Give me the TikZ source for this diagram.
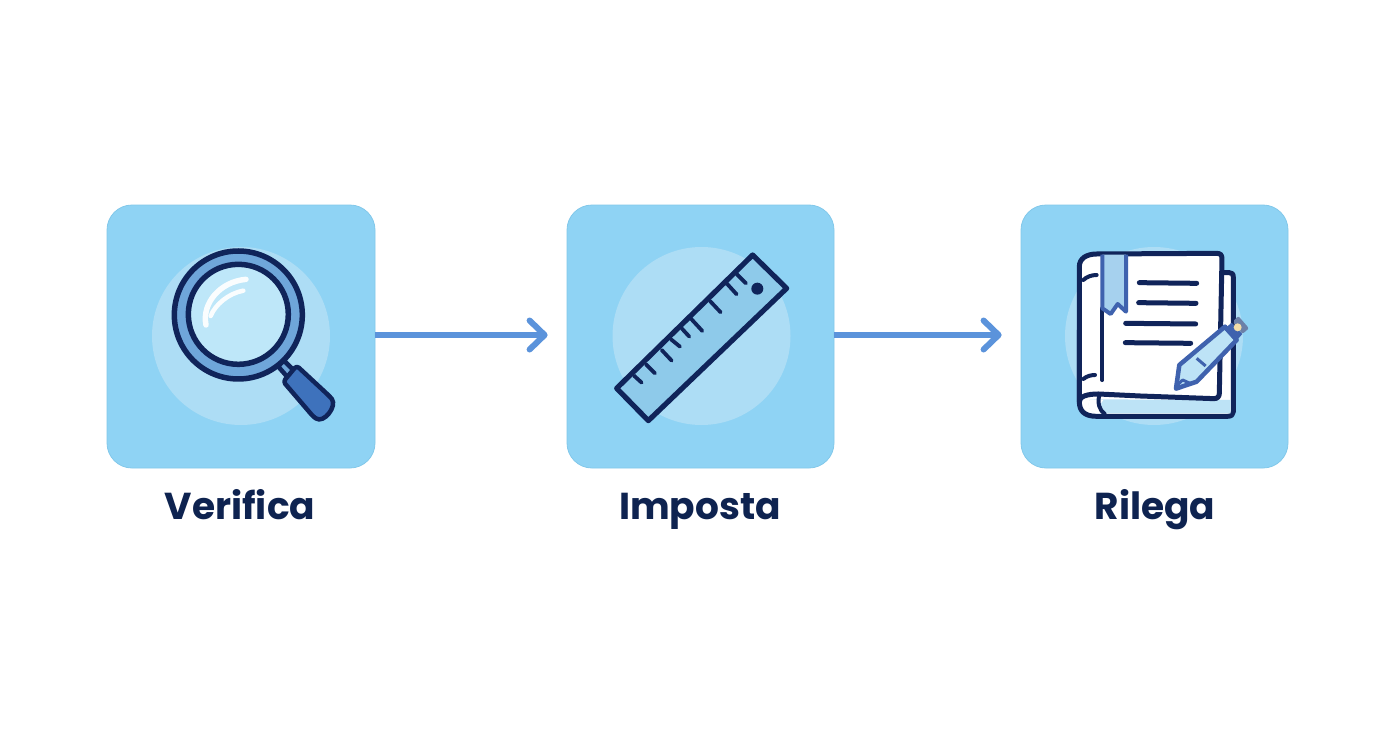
\documentclass[tikz,border=0pt]{standalone}
\usepackage{fontspec}
\setmainfont{Poppins}[BoldFont={Poppins Bold}]
\usetikzlibrary{arrows.meta}
\definecolor{boxfill}{HTML}{8FD3F4}
\definecolor{boxedge}{HTML}{82C8EA}
\definecolor{halo}{HTML}{ADDDF5}
\definecolor{navy}{HTML}{10245A}
\definecolor{titleink}{HTML}{0E2350}
\definecolor{arrowblue}{HTML}{5B93DB}
\definecolor{ringblue}{HTML}{6FA6DA}
\definecolor{lens}{HTML}{BEE7F9}
\definecolor{handleblue}{HTML}{3E72BC}
\definecolor{rulerfill}{HTML}{8ECAEA}
\definecolor{bandfill}{HTML}{BDE3F6}
\definecolor{penblue}{HTML}{3F62AE}
\definecolor{pengrey}{HTML}{6B80A8}
\definecolor{cream}{HTML}{F2DDA8}
\tikzset{
  tile/.style={draw=boxedge,line width=.8pt,fill=boxfill,rounded corners=25pt,minimum width=#1,minimum height=263pt,inner sep=0pt},
  title/.style={text=titleink,font=\fontsize{37.5}{40}\selectfont\bfseries,anchor=base,inner sep=0pt},
  flow/.style={arrowblue,line width=5.2pt,shorten >=19pt,-{Straight Barb[round,length=15pt,width=29pt,line width=6pt]}},
  inkline/.style={navy,line width=5pt,line cap=round,line join=round},
}
\begin{document}
\begin{tikzpicture}[x=1pt,y=-1pt]
\useasboundingbox (0,0) rectangle (1392,752);
\fill[white] (0,0) rectangle (1392,752);
\node[tile=268pt] (b1) at (241,336.5) {};
\node[tile=267pt] (b2) at (700.5,336.5) {};
\node[tile=267pt] (b3) at (1154.5,336.5) {};
\draw[flow] ([yshift=1.5pt]b1.east) -- ([yshift=1.5pt]b2.west);
\draw[flow] ([yshift=1.5pt]b2.east) -- ([yshift=1.5pt]b3.west);
\node[title] (t1) at (240,519) {Verifica};
\node[title] (t2) at (700,519) {Imposta};
\node[title] (t3) at (1155,519) {Rilega};
% magnifier
\fill[halo] (241,336) circle (89);
\begin{scope}[shift={(100,200)},x=.3333pt,y=-.3333pt]
\draw[navy,line width=4.5pt,fill=ringblue] (535,500) -- (550,480) -- (590,520) -- (570,540) -- cycle;
\draw[navy,line width=4.5pt,fill=handleblue,rounded corners=3pt,line join=round] (590,497) -- (690,590) .. controls (712,618) and (672,672) .. (640,650) -- (550,545) -- cycle;
\draw[navy,line width=5.5pt,fill=ringblue] (415,345) circle (192);
\draw[navy,line width=5.5pt,fill=lens] (415,343) circle (150);
\draw[white!92!lens,line width=5.5pt,line cap=round] (318,375) .. controls (305,310) and (360,245) .. (438,238);
\draw[white!92!lens,line width=4.5pt,line cap=round] (332,348) .. controls (345,315) and (385,280) .. (430,272);
\end{scope}
% ruler
\fill[halo] (701.5,336) circle (89);
\begin{scope}[shift={(560,200)},x=.3333pt,y=-.3333pt]
\draw[inkline,line width=5.2pt,fill=rulerfill] (578,165) -- (680,265) -- (265,662) -- (170,565) -- cycle;
\foreach \a/\b/\c/\d in {222/527/245/548,258/493/285/520,305/450/335/482,333/418/360/440,365/385/388/410,392/355/427/393,450/303/482/337,500/250/530/283,530/222/558/250}
  \draw[inkline,line width=3.8pt] (\a,\b) -- (\c,\d);
\fill[navy] (592,266) circle (18);
\end{scope}
% book
\fill[halo] (1154,336) circle (89);
\begin{scope}[shift={(1040,230)},x=.3333pt,y=-.3333pt]
\draw[inkline,fill=white] (540,128) -- (568,128) .. controls (576,128) and (580,132) .. (580,142) -- (580,545) .. controls (580,554) and (574,559) .. (562,559) -- (170,559) .. controls (130,559) and (118,540) .. (118,515) -- (118,300) -- cycle;
\fill[bandfill] (150,508) -- (572,510) -- (572,550) -- (170,550) .. controls (150,550) and (140,525) .. (150,508) -- cycle;
\fill[white] (190,510) .. controls (178,520) and (180,540) .. (196,550) -- (165,550) .. controls (145,545) and (140,520) .. (150,508) -- cycle;
\draw[inkline,fill=white] (118,515) -- (118,110) .. controls (118,85) and (140,72) .. (170,72) -- (530,70) .. controls (541,70) and (546,75) .. (546,86) -- (538,490) .. controls (538,500) and (532,506) .. (522,506) -- (300,498) -- (175,492) .. controls (140,492) and (118,500) .. (118,515) -- cycle;
\draw[inkline,line width=4pt] (178,495) .. controls (172,520) and (178,540) .. (194,552);
\draw[inkline,line width=4pt] (130,150) .. controls (140,140) and (155,135) .. (170,135);
\draw[inkline,line width=4pt] (130,447) .. controls (140,438) and (155,435) .. (165,435);
\draw[inkline,line width=4.2pt] (187,235) -- (187,450);
\draw[penblue,line width=4pt,line join=round,fill=bandfill!70!ringblue] (187,74) -- (187,235) -- (212,252) -- (233,222) -- (258,245) -- (258,74);
\foreach \a/\b/\c/\y in {298/470/158/160,296/468/218/220,257/467/280/282,256/452/338/340}
  \draw[inkline,line width=5pt] (\a,\c) -- (\b,\y);
\draw[penblue,line width=4.5pt,line join=round,fill=bandfill] (408,476) -- (418,405) -- (555,290) -- (590,330) -- (470,455) -- cycle;
\fill[penblue] (552,298) -- (575,278) -- (607,312) -- (587,335) -- cycle;
\fill[pengrey,rounded corners=2pt] (578,275) -- (595,258) -- (627,295) -- (607,312) -- cycle;
\fill[cream] (593,292) circle (12);
\draw[penblue,line width=3pt] (470,385) -- (497,408);
\draw[penblue,line width=3pt,line join=round] (412,465) -- (428,450) -- (450,460);
\end{scope}
\end{tikzpicture}
\end{document}
